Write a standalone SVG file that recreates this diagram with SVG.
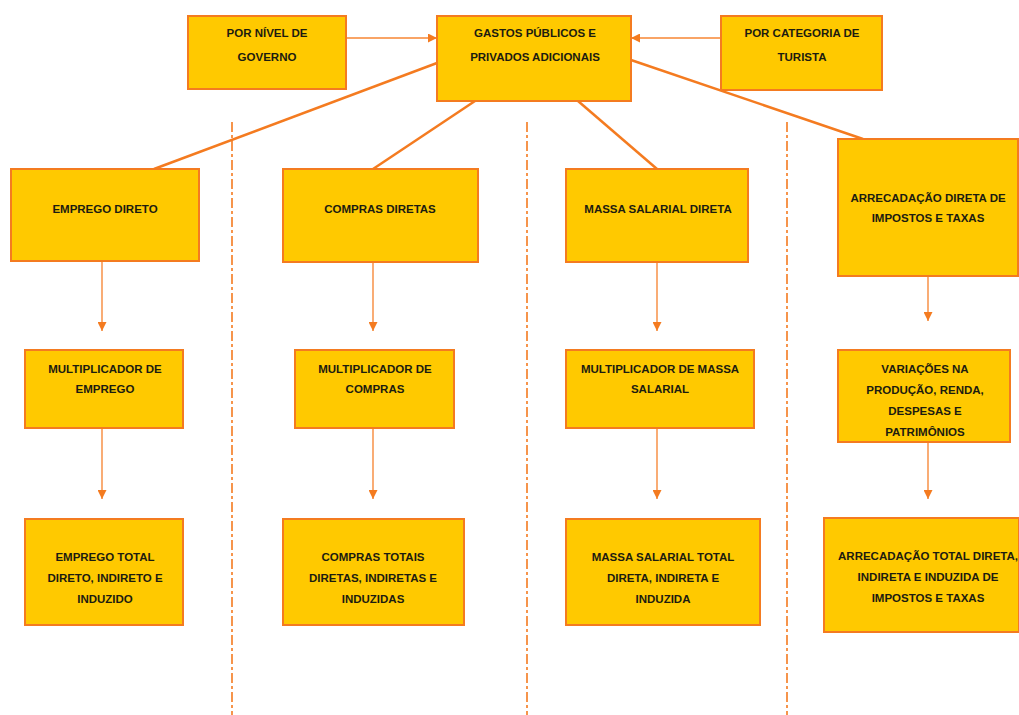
<svg xmlns="http://www.w3.org/2000/svg" width="1019" height="715" viewBox="0 0 1019 715">
<defs>
<style>
.box{fill:#ffc900;stroke:#f47b20;stroke-width:2}
.t{font-family:"Liberation Sans",Arial,sans-serif;font-weight:bold;font-size:11.5px;fill:#1c1c10;text-anchor:middle}
.diag{stroke:#f47b20;stroke-width:2.5;fill:none}
.arr{stroke:#f9a466;stroke-width:1.8;fill:none}
.sep{stroke:#f47b20;stroke-width:1.6;stroke-dasharray:10 3 3 3;fill:none}
</style>
<marker id="ah" viewBox="0 0 10 10" refX="10" refY="5" markerWidth="9" markerHeight="9" markerUnits="userSpaceOnUse" orient="auto">
<path d="M0,0 L10,5 L0,10 z" fill="#f47b20"/>
</marker>
</defs>
<rect width="1019" height="715" fill="#ffffff"/>
<g id="separators">
<line class="sep" x1="232" y1="122" x2="232" y2="715"/>
<line class="sep" x1="527" y1="122" x2="527" y2="715"/>
<line class="sep" x1="787" y1="122" x2="787" y2="715"/>
</g>
<g id="connectors">
<line class="diag" x1="437" y1="63" x2="154" y2="169"/>
<line class="diag" x1="475" y1="101" x2="373" y2="169"/>
<line class="diag" x1="578" y1="101" x2="657" y2="169"/>
<line class="diag" x1="631" y1="60" x2="863" y2="139"/>
<line class="arr" x1="346" y1="38" x2="437" y2="38" marker-end="url(#ah)"/>
<line class="arr" x1="721" y1="38" x2="631" y2="38" marker-end="url(#ah)"/>
<line class="arr" x1="102" y1="261" x2="102" y2="331" marker-end="url(#ah)"/>
<line class="arr" x1="102" y1="428" x2="102" y2="499" marker-end="url(#ah)"/>
<line class="arr" x1="373" y1="262" x2="373" y2="331" marker-end="url(#ah)"/>
<line class="arr" x1="373" y1="428" x2="373" y2="499" marker-end="url(#ah)"/>
<line class="arr" x1="657" y1="262" x2="657" y2="331" marker-end="url(#ah)"/>
<line class="arr" x1="657" y1="428" x2="657" y2="499" marker-end="url(#ah)"/>
<line class="arr" x1="928" y1="276" x2="928" y2="321" marker-end="url(#ah)"/>
<line class="arr" x1="928" y1="442" x2="928" y2="499" marker-end="url(#ah)"/>
</g>
<g id="n-nivel">
<rect class="box" x="188" y="16" width="158" height="73"/>
<text class="t" x="267" y="37">POR NÍVEL DE</text>
<text class="t" x="267" y="61">GOVERNO</text>
</g>
<g id="n-gastos">
<rect class="box" x="437" y="16" width="194" height="85"/>
<text class="t" x="535" y="37">GASTOS PÚBLICOS E</text>
<text class="t" x="535" y="61">PRIVADOS ADICIONAIS</text>
</g>
<g id="n-categoria">
<rect class="box" x="721" y="16" width="161" height="74"/>
<text class="t" x="802" y="37">POR CATEGORIA DE</text>
<text class="t" x="802" y="61">TURISTA</text>
</g>
<g id="n-emprego-direto">
<rect class="box" x="11" y="169" width="188" height="92"/>
<text class="t" x="105" y="213">EMPREGO DIRETO</text>
</g>
<g id="n-compras-diretas">
<rect class="box" x="283" y="169" width="195" height="93"/>
<text class="t" x="380" y="213">COMPRAS DIRETAS</text>
</g>
<g id="n-massa-direta">
<rect class="box" x="566" y="169" width="182" height="93"/>
<text class="t" x="658" y="213">MASSA SALARIAL DIRETA</text>
</g>
<g id="n-arrecadacao-direta">
<rect class="box" x="838" y="139" width="180" height="137"/>
<text class="t" x="928" y="202">ARRECADAÇÃO DIRETA DE</text>
<text class="t" x="928" y="222">IMPOSTOS E TAXAS</text>
</g>
<g id="n-mult-emprego">
<rect class="box" x="25" y="350" width="158" height="78"/>
<text class="t" x="105" y="373">MULTIPLICADOR DE</text>
<text class="t" x="105" y="393">EMPREGO</text>
</g>
<g id="n-mult-compras">
<rect class="box" x="295" y="350" width="159" height="78"/>
<text class="t" x="375" y="373">MULTIPLICADOR DE</text>
<text class="t" x="375" y="393">COMPRAS</text>
</g>
<g id="n-mult-massa">
<rect class="box" x="566" y="350" width="188" height="78"/>
<text class="t" x="660" y="373">MULTIPLICADOR DE MASSA</text>
<text class="t" x="660" y="393">SALARIAL</text>
</g>
<g id="n-variacoes">
<rect class="box" x="838" y="350" width="172" height="92"/>
<text class="t" x="925" y="373">VARIAÇÕES NA</text>
<text class="t" x="925" y="394">PRODUÇÃO, RENDA,</text>
<text class="t" x="925" y="415">DESPESAS E</text>
<text class="t" x="925" y="436">PATRIMÔNIOS</text>
</g>
<g id="n-emprego-total">
<rect class="box" x="25" y="519" width="158" height="106"/>
<text class="t" x="105" y="561">EMPREGO TOTAL</text>
<text class="t" x="105" y="582">DIRETO, INDIRETO E</text>
<text class="t" x="105" y="603">INDUZIDO</text>
</g>
<g id="n-compras-totais">
<rect class="box" x="283" y="519" width="181" height="106"/>
<text class="t" x="373" y="561">COMPRAS TOTAIS</text>
<text class="t" x="373" y="582">DIRETAS, INDIRETAS E</text>
<text class="t" x="373" y="603">INDUZIDAS</text>
</g>
<g id="n-massa-total">
<rect class="box" x="566" y="519" width="194" height="106"/>
<text class="t" x="663" y="561">MASSA SALARIAL TOTAL</text>
<text class="t" x="663" y="582">DIRETA, INDIRETA E</text>
<text class="t" x="663" y="603">INDUZIDA</text>
</g>
<g id="n-arrecadacao-total">
<rect class="box" x="824" y="518" width="195" height="114"/>
<text class="t" x="928" y="560">ARRECADAÇÃO TOTAL DIRETA,</text>
<text class="t" x="928" y="581">INDIRETA E INDUZIDA DE</text>
<text class="t" x="928" y="602">IMPOSTOS E TAXAS</text>
</g>
</svg>
